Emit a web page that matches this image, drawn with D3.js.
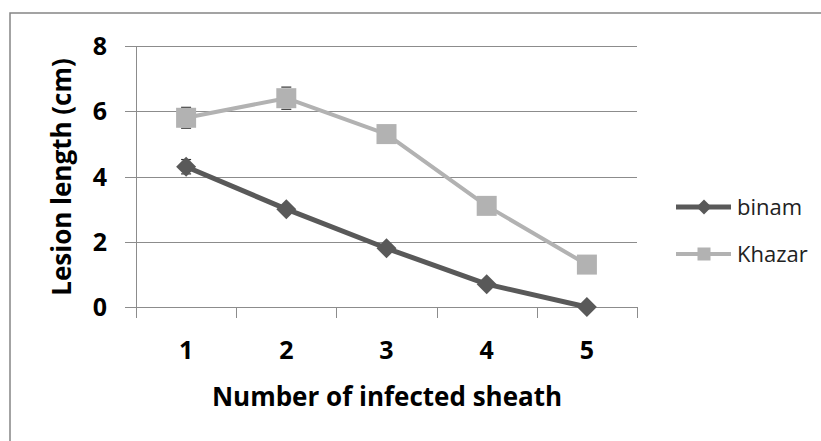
<!DOCTYPE html>
<html>
<head>
<meta charset="utf-8">
<script src="https://cdn.jsdelivr.net/npm/d3@7"></script>
<style>
  body { margin: 0; background: #fff; }
  svg { display: block; font-family: "Open Sans", Lato, sans-serif; }
</style>
</head>
<body>
<svg id="chart" width="821" height="441"></svg>
<script>
const categories = [1, 2, 3, 4, 5];
const binam = [4.3, 3.0, 1.8, 0.7, 0.0];
const khazar = [5.8, 6.4, 5.3, 3.1, 1.3];
const binamErr = [0.22, 0, 0, 0, 0];
const khazarErr = [0.32, 0.34, 0, 0, 0];
const yTicks = [0, 2, 4, 6, 8];

const svg = d3.select("#chart");
const plot = { left: 136, right: 637, top: 46, bottom: 307 };

// outer frame (runs off the right and bottom like the original)
svg.append("rect")
  .attr("x", 10).attr("y", 13)
  .attr("width", 900).attr("height", 600)
  .attr("fill", "none").attr("stroke", "#858585").attr("stroke-width", 1.5);

const x = d3.scalePoint().domain(categories).range([plot.left, plot.right]).padding(0.5);
const xBand = d3.scaleBand().domain(categories).range([plot.left, plot.right]);
const y = d3.scaleLinear().domain([0, 8]).range([plot.bottom, plot.top]);

// gridlines + y ticks
svg.append("g")
  .selectAll("line")
  .data(yTicks)
  .enter()
  .append("line")
  .attr("x1", plot.left - 11).attr("x2", plot.right)
  .attr("y1", (d) => Math.round(y(d)) + 0.5).attr("y2", (d) => Math.round(y(d)) + 0.5)
  .attr("stroke", "#8c8c8c").attr("stroke-width", 1);

// y axis line
svg.append("line")
  .attr("x1", plot.left + 0.5).attr("x2", plot.left + 0.5)
  .attr("y1", plot.top).attr("y2", plot.bottom)
  .attr("stroke", "#8c8c8c");

// x tick marks at category boundaries
const xEdges = categories.map((c) => xBand(c)).concat([plot.right]);
svg.append("g")
  .selectAll("line")
  .data(xEdges)
  .enter()
  .append("line")
  .attr("x1", (d) => Math.round(d) + 0.5).attr("x2", (d) => Math.round(d) + 0.5)
  .attr("y1", plot.bottom).attr("y2", plot.bottom + 11)
  .attr("stroke", "#8c8c8c");

// y tick labels
svg.append("g")
  .selectAll("text")
  .data(yTicks)
  .enter()
  .append("text")
  .attr("x", 107).attr("y", (d) => y(d))
  .attr("dy", "0.36em")
  .attr("text-anchor", "end")
  .attr("font-size", 25).attr("font-weight", "bold").attr("fill", "#000")
  .text((d) => d);

// x tick labels
svg.append("g")
  .selectAll("text")
  .data(categories)
  .enter()
  .append("text")
  .attr("x", (d) => x(d)).attr("y", 350)
  .attr("dy", "0.36em")
  .attr("text-anchor", "middle")
  .attr("font-size", 25).attr("font-weight", "bold").attr("fill", "#000")
  .text((d) => d);

// axis titles
svg.append("text")
  .attr("x", 387).attr("y", 397).attr("dy", "0.36em")
  .attr("text-anchor", "middle")
  .attr("font-size", 26).attr("font-weight", "bold").attr("fill", "#000")
  .text("Number of infected sheath");

svg.append("text")
  .attr("transform", "translate(62,177) rotate(-90)")
  .attr("dy", "0.36em")
  .attr("text-anchor", "middle")
  .attr("font-size", 26).attr("font-weight", "bold").attr("fill", "#000")
  .text("Lesion length (cm)");

const series = [
  { name: "binam", values: binam, err: binamErr, color: "#595959", width: 5, shape: "diamond" },
  { name: "Khazar", values: khazar, err: khazarErr, color: "#b2b2b2", width: 4, shape: "square" }
];

const line = d3.line().x((d, i) => x(categories[i])).y((d) => y(d));

function marker(g, shape, size, color) {
  if (shape === "diamond") {
    g.append("path")
      .attr("d", `M0,${-size}L${size},0L0,${size}L${-size},0Z`)
      .attr("fill", color);
  } else {
    g.append("rect")
      .attr("x", -size).attr("y", -size)
      .attr("width", size * 2).attr("height", size * 2)
      .attr("fill", color);
  }
}

series.forEach((s) => {
  // error bar caps (mostly hidden behind markers)
  const eb = svg.append("g");
  s.values.forEach((v, i) => {
    if (!s.err[i]) return;
    const cx = x(categories[i]);
    [v + s.err[i], v - s.err[i]].forEach((e) => {
      eb.append("line")
        .attr("x1", cx - 5).attr("x2", cx + 5)
        .attr("y1", y(e)).attr("y2", y(e))
        .attr("stroke", "#333").attr("stroke-width", 1.2);
    });
  });

  svg.append("path")
    .datum(s.values)
    .attr("d", line)
    .attr("fill", "none")
    .attr("stroke", s.color)
    .attr("stroke-width", s.width)
    .attr("stroke-linejoin", "round");

  s.values.forEach((v, i) => {
    const g = svg.append("g").attr("transform", `translate(${x(categories[i])},${y(v)})`);
    marker(g, s.shape, 10, s.color);
  });
});

// legend
const legend = svg.append("g");
series.forEach((s, i) => {
  const ly = 207 + i * 47;
  legend.append("line")
    .attr("x1", 676).attr("x2", 731)
    .attr("y1", ly).attr("y2", ly)
    .attr("stroke", s.color).attr("stroke-width", s.width);
  const g = legend.append("g").attr("transform", `translate(704,${ly})`);
  marker(g, s.shape, s.shape === "diamond" ? 7.5 : 6.5, s.color);
  legend.append("text")
    .attr("x", 737).attr("y", ly).attr("dy", "0.36em")
    .attr("font-size", 22).attr("fill", "#222")
    .text(s.name);
});
</script>
</body>
</html>
